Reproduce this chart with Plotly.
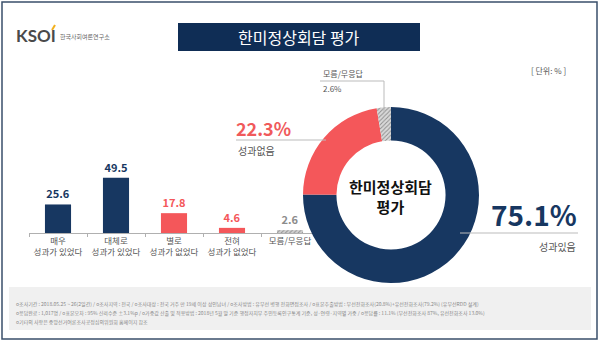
import plotly.graph_objects as go

W, H = 600, 344
FONT = "Noto Sans CJK KR"

# ---- data ----
bar_categories = ["매우<br>성과가 있었다", "대체로<br>성과가 있었다", "별로<br>성과가 없었다", "전혀<br>성과가 없었다", "모름/무응답"]
bar_values = [25.6, 49.5, 17.8, 4.6, 2.6]
bar_colors = ["#173761", "#173761", "#f4575a", "#f4575a", "#d0d0d0"]
bar_text_colors = ["#173761", "#173761", "#f4575a", "#f4575a", "#8c8c8c"]
bar_patterns = ["", "", "", "", "/"]

pie_labels = ["성과있음", "성과없음", "모름/무응답"]
pie_values = [75.1, 22.3, 2.6]
pie_colors = ["#173761", "#f4575a", "#c8c8c8"]
pie_patterns = ["", "", "/"]

title_text = "한미정상회담 평가"
footer_lines = [
    "o조사기간 : 2018.05.25 ~ 26(2일간) / o조사지역 : 전국 / o조사대상 : 전국 거주 만 19세 이상 성인남녀 / o조사방법 : 유무선 병행 전화면접조사 / o표본추출방법 : 무선전화조사(20.8%)+유선전화조사(79.2%) (유무선RDD 설계)",
    "o응답완료 : 1,017명 / o표본오차 : 95% 신뢰수준 ±3.1%p / o가중값 산출 및 적용방법 : 2018년 5월 말 기준 행정자치부 주민등록인구통계 기준, 성·연령·지역별 가중 / o응답률 : 11.1% (무선전화조사 87%, 유선전화조사 13.0%)",
    "o기타의 사항은 중앙선거여론조사공정심의위원회 홈페이지 참조",
]


def px(x):
    return x / W


def py(y):
    return 1 - y / H


fig = go.Figure()

fig.add_trace(go.Bar(
    x=bar_categories, y=bar_values,
    marker=dict(color=bar_colors, line=dict(width=0),
                pattern=dict(shape=bar_patterns, fgcolor="#8c8c8c", bgcolor="#e6e6e6", size=3, solidity=0.3)),
    width=0.45,
    text=[f"<b>{v}</b>" for v in bar_values],
    textposition="outside",
    textfont=dict(color=bar_text_colors, size=11, family=FONT),
    cliponaxis=False,
    showlegend=False,
    xaxis="x", yaxis="y",
))

fig.add_trace(go.Pie(
    labels=pie_labels, values=pie_values,
    hole=0.62, sort=False, direction="clockwise", rotation=0,
    marker=dict(colors=pie_colors, line=dict(width=0),
                pattern=dict(shape=pie_patterns, fgcolor="#8c8c8c", bgcolor="#d9d9d9", size=3, solidity=0.3)),
    textinfo="none", showlegend=False,
    domain=dict(x=[px(303), px(479)], y=[py(283), py(107)]),
))

shapes = []
annotations = []

# outer frame
shapes.append(dict(type="rect", xref="paper", yref="paper", x0=px(2), x1=px(597), y0=py(339), y1=py(2),
                   line=dict(color="#3a4f6b", width=1.5), fillcolor="rgba(0,0,0,0)", layer="above"))
# footer box
shapes.append(dict(type="rect", xref="paper", yref="paper", x0=px(9), x1=px(591), y0=py(330), y1=py(287),
                   line=dict(width=0), fillcolor="#f0f0f0", layer="below"))
# title box
shapes.append(dict(type="rect", xref="paper", yref="paper", x0=px(178), x1=px(420), y0=py(51), y1=py(23),
                   line=dict(width=0), fillcolor="#0f2d55", layer="below"))
annotations.append(dict(text=title_text, x=px(299), y=py(37), xref="paper", yref="paper", showarrow=False,
                        font=dict(color="white", size=16, family=FONT), xanchor="center", yanchor="middle"))

# logo
annotations.append(dict(text="<b>KSOI</b>", x=px(14), y=py(36), xref="paper", yref="paper", showarrow=False,
                        font=dict(color="#4a4a4a", size=17, family="Lato"), xanchor="left", yanchor="middle"))
shapes.append(dict(type="line", xref="paper", yref="paper", x0=px(52), x1=px(55), y0=py(30), y1=py(25),
                   line=dict(color="#f2b01e", width=2)))
annotations.append(dict(text="한국사회여론연구소", x=px(58), y=py(37), xref="paper", yref="paper", showarrow=False,
                        font=dict(color="#666666", size=6, family=FONT), xanchor="left", yanchor="middle"))

# unit
annotations.append(dict(text="[ 단위: % ]", x=px(568), y=py(70), xref="paper", yref="paper", showarrow=False,
                        font=dict(color="#555555", size=8, family=FONT), xanchor="right", yanchor="middle"))

# center of donut
annotations.append(dict(text="<b>한미정상회담<br>평가</b>", x=px(391), y=py(196), xref="paper", yref="paper",
                        showarrow=False, font=dict(color="#111111", size=15, family=FONT),
                        xanchor="center", yanchor="middle"))

# 모름/무응답 label
annotations.append(dict(text="모름/무응답", x=px(321), y=py(74), xref="paper", yref="paper", showarrow=False,
                        font=dict(color="#555555", size=8, family=FONT), xanchor="left", yanchor="middle"))
annotations.append(dict(text=f"{pie_values[2]}%", x=px(321), y=py(88), xref="paper", yref="paper", showarrow=False,
                        font=dict(color="#555555", size=8, family=FONT), xanchor="left", yanchor="middle"))
shapes.append(dict(type="line", xref="paper", yref="paper", x0=px(320), x1=px(384), y0=py(81), y1=py(81),
                   line=dict(color="#bbbbbb", width=1)))
shapes.append(dict(type="line", xref="paper", yref="paper", x0=px(384), x1=px(384), y0=py(81), y1=py(112),
                   line=dict(color="#bbbbbb", width=1)))

# 22.3% label
annotations.append(dict(text=f"<b>{pie_values[1]}%</b>", x=px(234), y=py(128), xref="paper", yref="paper",
                        showarrow=False, font=dict(color="#f05a5b", size=18, family=FONT),
                        xanchor="left", yanchor="middle"))
annotations.append(dict(text="성과없음", x=px(236), y=py(150), xref="paper", yref="paper", showarrow=False,
                        font=dict(color="#555555", size=10, family=FONT), xanchor="left", yanchor="middle"))
shapes.append(dict(type="line", xref="paper", yref="paper", x0=px(236), x1=px(326), y0=py(140), y1=py(140),
                   line=dict(color="#bbbbbb", width=1)))

# 75.1% label
annotations.append(dict(text=f"<b>{pie_values[0]}%</b>", x=px(579), y=py(214), xref="paper", yref="paper",
                        showarrow=False, font=dict(color="#173761", size=28, family=FONT),
                        xanchor="right", yanchor="middle"))
annotations.append(dict(text="성과있음", x=px(578), y=py(246), xref="paper", yref="paper", showarrow=False,
                        font=dict(color="#555555", size=10, family=FONT), xanchor="right", yanchor="middle"))
shapes.append(dict(type="line", xref="paper", yref="paper", x0=px(460), x1=px(578), y0=py(233), y1=py(233),
                   line=dict(color="#bbbbbb", width=1)))

# footer text
for line, yy in zip(footer_lines, [304, 313, 321.5]):
    annotations.append(dict(text=line, x=px(14), y=py(yy), xref="paper", yref="paper", showarrow=False,
                            font=dict(color="#888888", size=5, family=FONT), xanchor="left", yanchor="middle"))

fig.update_layout(
    width=W, height=H,
    margin=dict(l=0, r=0, t=0, b=0),
    paper_bgcolor="white", plot_bgcolor="rgba(0,0,0,0)",
    font=dict(family=FONT),
    shapes=shapes, annotations=annotations,
    xaxis=dict(domain=[px(29), px(319)], range=[-0.5, 4.5], showline=True, linecolor="#b0b0b0", linewidth=1,
               ticks="outside", ticklen=3, tickcolor="#b0b0b0", tickson="boundaries", showgrid=False,
               tickangle=0, tickfont=dict(size=8.5, color="#555555", family=FONT), fixedrange=True),
    yaxis=dict(domain=[py(233), py(133)], range=[0, 89.7], visible=False, showgrid=False, zeroline=False),
    bargap=0.5,
)

fig.write_html("out.html")
